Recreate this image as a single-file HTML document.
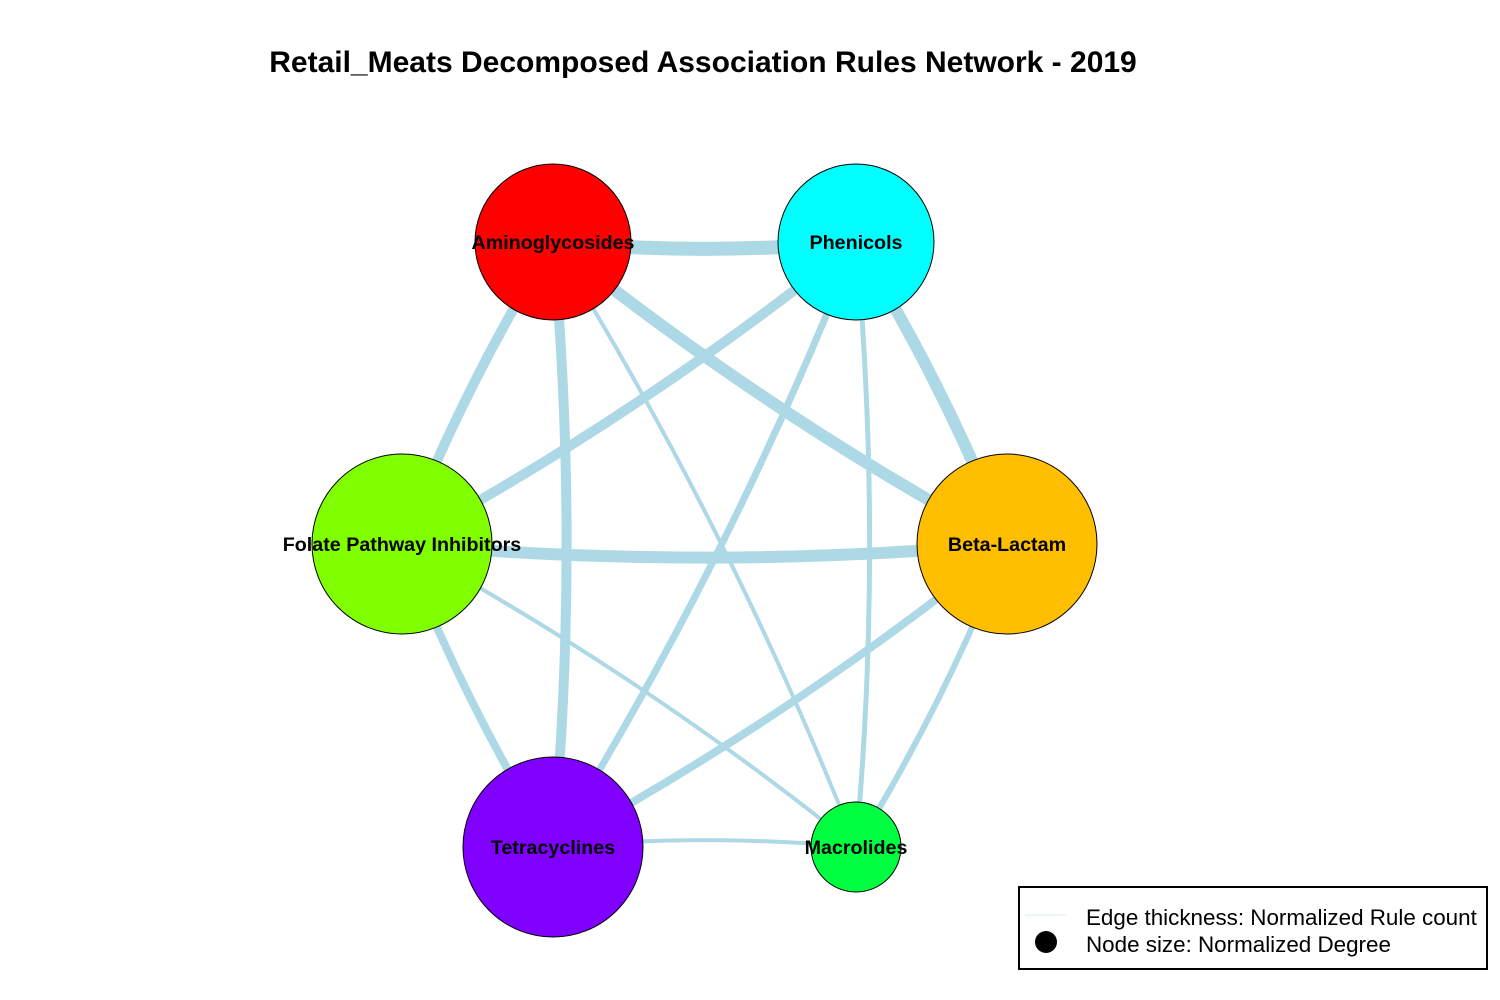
<!DOCTYPE html>
<html><head><meta charset="utf-8"><style>
body{margin:0;background:#fff}
svg{display:block;font-family:"Liberation Sans",Arial,sans-serif}
</style></head><body>
<svg width="1500" height="1000" viewBox="0 0 1500 1000">
<text x="703" y="72" text-anchor="middle" font-size="30" font-weight="bold">Retail_Meats Decomposed Association Rules Network - 2019</text>
<g id="edges"></g>
<g id="nodes"></g>
<g>
<rect x="1019" y="887" width="468" height="82" fill="#fff" stroke="#000" stroke-width="2"/>
<line x1="1025" y1="915" x2="1066" y2="915" stroke="#d8ecf2" stroke-width="1"/>
<circle cx="1046" cy="942" r="11" fill="#000"/>
<text x="1086" y="925" font-size="22.4">Edge thickness: Normalized Rule count</text>
<text x="1086" y="952" font-size="22.4">Node size: Normalized Degree</text>
</g>
</svg>
<script>
const nodeNames = ["Aminoglycosides","Phenicols","Folate Pathway Inhibitors","Beta-Lactam","Tetracyclines","Macrolides"];
const nodeSize = [78,78,90,90,90,45];
const nodeColors = ["#FF0000","#00FFFF","#80FF00","#FFBF00","#8000FF","#00FF40"];
const edgeFrom = [0,0,0,0,0,1,1,1,1,2,2,2,3,3,4];
const edgeTo   = [1,3,2,4,5,2,3,4,5,3,4,5,4,5,5];
const edgeWeight = [14,12,10,10,4,10,12,7,5,12,8,4,8,6,4];
// layout (positions)
const pos = [[553,242],[856,242],[402,544],[1007,544],[553,847],[856,847]];
const bow = [[0,1],[-1,1],[-1,-1],[1,0],[1,0],[1,1],[1,-1],[1,0],[1,0],[0,1],[-1,1],[0,-1],[1,1],[1,0],[0,-1]];
const NS="http://www.w3.org/2000/svg";
const eg=document.getElementById('edges'), ng=document.getElementById('nodes');
edgeFrom.forEach((a,i)=>{
  const b=edgeTo[i];const [x1,y1]=pos[a],[x2,y2]=pos[b];
  const dx=x2-x1,dy=y2-y1,L=Math.hypot(dx,dy);
  let nx=-dy/L,ny=dx/L;
  if(nx*bow[i][0]+ny*bow[i][1]<0){nx=-nx;ny=-ny;}
  const off=0.045*L;
  const cx=(x1+x2)/2+nx*off, cy=(y1+y2)/2+ny*off;
  const p=document.createElementNS(NS,'path');
  p.setAttribute('d',`M${x1},${y1} Q${cx},${cy} ${x2},${y2}`);
  p.setAttribute('fill','none');p.setAttribute('stroke','#ADD8E6');
  p.setAttribute('stroke-width',edgeWeight[i]);
  
  
  eg.appendChild(p);
});
nodeNames.forEach((n,i)=>{
  const c=document.createElementNS(NS,'circle');
  c.setAttribute('cx',pos[i][0]);c.setAttribute('cy',pos[i][1]);c.setAttribute('r',nodeSize[i]);
  c.setAttribute('fill',nodeColors[i]);c.setAttribute('stroke','#000');c.setAttribute('stroke-width','1');
  
  
  ng.appendChild(c);
});
nodeNames.forEach((n,i)=>{
  const t=document.createElementNS(NS,'text');
  t.setAttribute('x',pos[i][0]);t.setAttribute('y',pos[i][1]+7);
  t.setAttribute('text-anchor','middle');t.setAttribute('font-size','19.7');t.setAttribute('font-weight','bold');
  t.textContent=n;
  
  
  ng.appendChild(t);
});
</script>
</body></html>
